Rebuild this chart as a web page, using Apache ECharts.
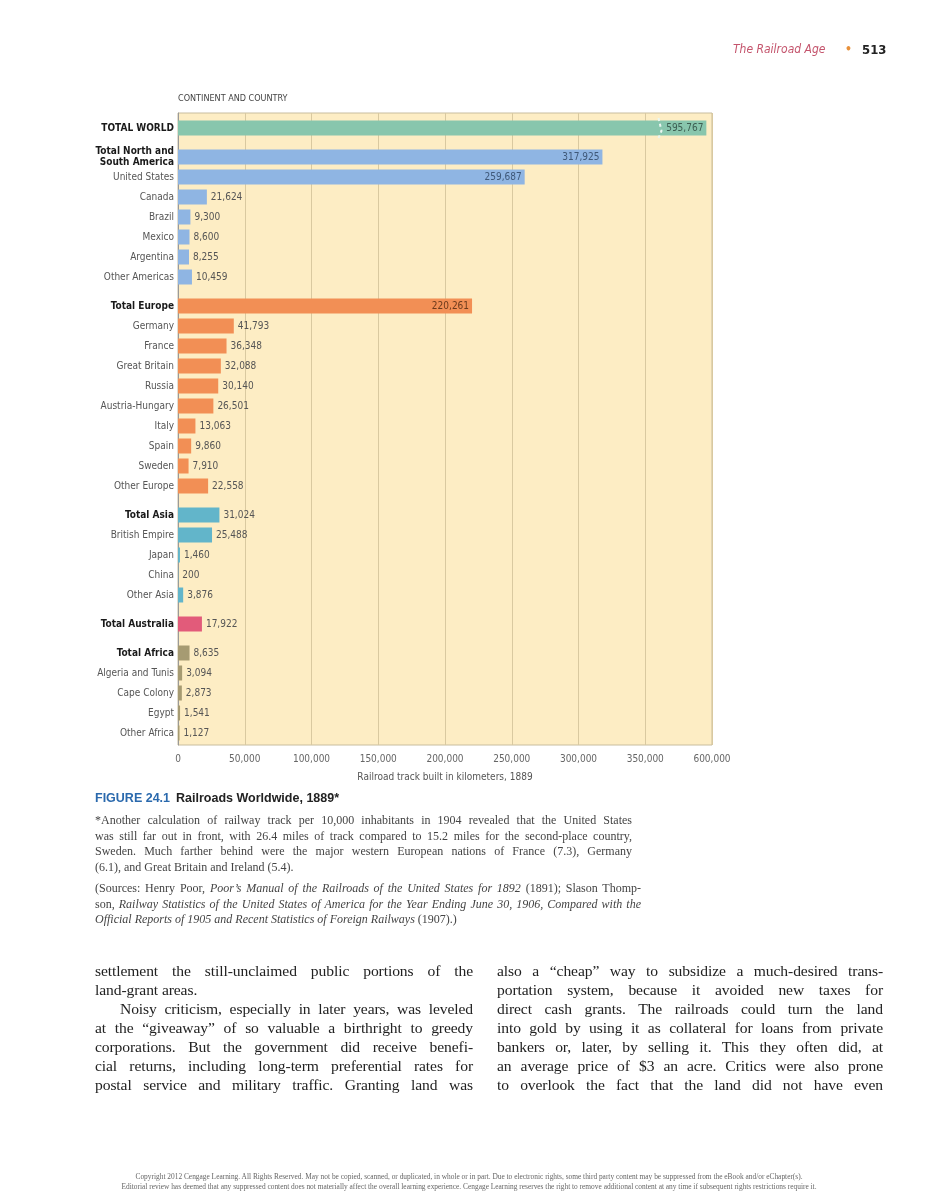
<!DOCTYPE html>
<html>
<head>
<meta charset="utf-8">
<script src="https://cdn.jsdelivr.net/npm/echarts@6/dist/echarts.min.js"></script>
<style>
  html, body { margin: 0; padding: 0; background: #fff; }
  #page { position: relative; width: 938px; height: 1200px; overflow: hidden; }
  #chart { position: absolute; left: 0; top: 0; width: 938px; height: 1200px; }
  .t { position: absolute; white-space: nowrap; }
  .hdr { top: 42px; font-family: 'Liberation Sans Narrow', 'DejaVu Sans Condensed', 'Liberation Sans', sans-serif; font-size: 12px; }
  .cap { left: 95px; top: 791px; font-family: 'Liberation Sans Narrow', 'Liberation Sans', sans-serif; font-weight: bold; font-size: 12.5px; color: #222; }
  .cap b { color: #2a69ad; margin-right: 6px; }
  .note { left: 95px; font-family: 'Liberation Serif', 'DejaVu Serif', serif; font-size: 12px; color: #444; line-height: 15.5px; }
  .note div, .body div { text-align: justify; text-align-last: justify; white-space: nowrap; }
  .note div.last, .body div.last { text-align-last: left; }
  .body { font-family: 'Liberation Serif', 'DejaVu Serif', serif; font-size: 15.6px; color: #222; line-height: 19px; letter-spacing: -0.1px; }
  .copy { left: 0; width: 938px; text-align: center; font-family: 'Liberation Serif', serif; font-size: 7.4px; color: #666; line-height: 10px; }
</style>
</head>
<body>
<div id="page">
  <div id="chart"></div>

  <div class="t hdr" style="left:733px; color:#c4546c; font-style:italic;">The Railroad Age</div>
  <div class="t hdr" style="left:845px; color:#e8903a; font-weight:bold;">•</div>
  <div class="t hdr" style="left:862px; color:#222; font-weight:bold; font-size:13px;">513</div>

  <div class="t cap"><b>FIGURE 24.1</b>Railroads Worldwide, 1889*</div>

  <div class="t note" style="top:813px; width:537px;">
    <div>*Another calculation of railway track per 10,000 inhabitants in 1904 revealed that the United States</div>
    <div>was still far out in front, with 26.4 miles of track compared to 15.2 miles for the second-place country,</div>
    <div>Sweden. Much farther behind were the major western European nations of France (7.3), Germany</div>
    <div class="last">(6.1), and Great Britain and Ireland (5.4).</div>
  </div>
  <div class="t note" style="top:881px; width:546px;">
    <div>(Sources: Henry Poor, <i>Poor’s Manual of the Railroads of the United States for 1892</i> (1891); Slason Thomp-</div>
    <div>son, <i>Railway Statistics of the United States of America for the Year Ending June 30, 1906, Compared with the</i></div>
    <div class="last"><i>Official Reports of 1905 and Recent Statistics of Foreign Railways</i> (1907).)</div>
  </div>

  <div class="t body" style="left:95px; top:961px; width:378px;">
    <div>settlement the still-unclaimed public portions of the</div>
    <div class="last">land-grant areas.</div>
    <div style="padding-left:25px;">Noisy criticism, especially in later years, was leveled</div>
    <div>at the “giveaway” of so valuable a birthright to greedy</div>
    <div>corporations. But the government did receive benefi-</div>
    <div>cial returns, including long-term preferential rates for</div>
    <div>postal service and military traffic. Granting land was</div>
  </div>
  <div class="t body" style="left:497px; top:961px; width:386px;">
    <div>also a “cheap” way to subsidize a much-desired trans-</div>
    <div>portation system, because it avoided new taxes for</div>
    <div>direct cash grants. The railroads could turn the land</div>
    <div>into gold by using it as collateral for loans from private</div>
    <div>bankers or, later, by selling it. This they often did, at</div>
    <div>an average price of $3 an acre. Critics were also prone</div>
    <div>to overlook the fact that the land did not have even</div>
  </div>

  <div class="t copy" style="top:1172px;">Copyright 2012 Cengage Learning. All Rights Reserved. May not be copied, scanned, or duplicated, in whole or in part. Due to electronic rights, some third party content may be suppressed from the eBook and/or eChapter(s).<br>Editorial review has deemed that any suppressed content does not materially affect the overall learning experience. Cengage Learning reserves the right to remove additional content at any time if subsequent rights restrictions require it.</div>
</div>

<script>
// ---- data ----
const worldCats = ['TOTAL WORLD'];
const worldVals = [595767];
const americasCats = ['Total North and\nSouth America', 'United States', 'Canada', 'Brazil', 'Mexico', 'Argentina', 'Other Americas'];
const americasVals = [317925, 259687, 21624, 9300, 8600, 8255, 10459];
const europeCats = ['Total Europe', 'Germany', 'France', 'Great Britain', 'Russia', 'Austria-Hungary', 'Italy', 'Spain', 'Sweden', 'Other Europe'];
const europeVals = [220261, 41793, 36348, 32088, 30140, 26501, 13063, 9860, 7910, 22558];
const asiaCats = ['Total Asia', 'British Empire', 'Japan', 'China', 'Other Asia'];
const asiaVals = [31024, 25488, 1460, 200, 3876];
const australiaCats = ['Total Australia'];
const australiaVals = [17922];
const africaCats = ['Total Africa', 'Algeria and Tunis', 'Cape Colony', 'Egypt', 'Other Africa'];
const africaVals = [8635, 3094, 2873, 1541, 1127];
const xTickValues = [0, 50000, 100000, 150000, 200000, 250000, 300000, 350000, 600000];
const axisBreak = { start: 360000, end: 560000 };

// ---- styling / layout ----
const groups = [
  { cats: worldCats, vals: worldVals, color: '#88c6ad', inColor: '#3d5e52' },
  { cats: americasCats, vals: americasVals, color: '#8fb5e3', inColor: '#3f5878' },
  { cats: europeCats, vals: europeVals, color: '#f28f55', inColor: '#6b3a1c' },
  { cats: asiaCats, vals: asiaVals, color: '#62b5ca', inColor: '#2e5560' },
  { cats: australiaCats, vals: australiaVals, color: '#e25b7a', inColor: '#5a2030' },
  { cats: africaCats, vals: africaVals, color: '#a69b72', inColor: '#4a4430' }
];
const FONT = "'Liberation Sans Narrow', 'DejaVu Sans Condensed', 'Liberation Sans', sans-serif";
const PL = 178, PW = 534, PTOP = 113, PH = 632;
const ROW = 20, GAP = 9, FIRST = 118;

const fmt = v => Number(v).toLocaleString('en-US');
const breaks = [{ start: axisBreak.start, end: axisBreak.end, gap: 0 }];

const grids = [{ left: PL, top: PTOP, width: PW, height: PH, show: true, backgroundColor: '#fdedc4', borderColor: '#c8bd9e', borderWidth: 1, outerBoundsMode: 'none', containLabel: false }];
const xAxes = [{
  gridIndex: 0, type: 'value', min: 0, max: 600000, interval: 50000,
  breaks: breaks,
  breakArea: { show: false },
  breakLabelLayout: { moveOverlap: false },
  axisLine: { show: false },
  axisTick: { show: false, customValues: xTickValues },
  splitLine: { show: true, lineStyle: { color: '#d9c9a0', width: 1 } },
  axisLabel: {
    fontFamily: FONT, fontSize: 10, color: '#666', margin: 9, hideOverlap: false,
    customValues: xTickValues,
    formatter: v => fmt(v)
  },
  name: 'Railroad track built in kilometers, 1889', nameLocation: 'middle', nameGap: 27,
  nameTextStyle: { fontFamily: FONT, fontSize: 10, color: '#555' }
}];
const yAxes = [{
  gridIndex: 0, type: 'category', data: [''],
  axisLine: { show: true, lineStyle: { color: '#9a9a9a' } }, axisTick: { show: false }, axisLabel: { show: false },
  name: 'CONTINENT AND COUNTRY', nameLocation: 'end', nameGap: 10,
  nameTextStyle: { fontFamily: FONT, fontSize: 9, color: '#444', align: 'left' }
}];
const series = [];
let gTop = FIRST;
groups.forEach((g, i) => {
  const h = g.cats.length * ROW;
  grids.push({ left: PL, top: gTop, width: PW, height: h, outerBoundsMode: 'none', containLabel: false });
  gTop += h + GAP;
  xAxes.push({
    gridIndex: i + 1, type: 'value', min: 0, max: 600000, interval: 50000,
    breaks: breaks,
    breakArea: i === 0 ? { show: true, zigzagAmplitude: 3, itemStyle: { color: '#eaf6f0', borderColor: '#eaf6f0', borderWidth: 2, opacity: 1 } } : { show: false },
    axisLine: { show: false }, axisTick: { show: false }, axisLabel: { show: false }, splitLine: { show: false }
  });
  yAxes.push({
    gridIndex: i + 1, type: 'category', inverse: true, data: g.cats,
    axisLine: { show: false }, axisTick: { show: false },
    axisLabel: {
      fontFamily: FONT, fontSize: 10, color: '#555', margin: 4, lineHeight: 11,
      formatter: (v, idx) => idx === 0 ? v.split('\n').map(s => '{b|' + s + '}').join('\n') : v,
      rich: { b: { fontFamily: FONT, fontSize: 10, fontWeight: 'bold', color: '#1a1a1a', lineHeight: 11 } }
    }
  });
  series.push({
    type: 'bar', xAxisIndex: i + 1, yAxisIndex: i + 1, barWidth: 15,
    itemStyle: { color: g.color },
    label: { show: true, position: 'right', distance: 4, fontFamily: FONT, fontSize: 10, color: '#555', formatter: p => fmt(p.value) },
    data: g.vals.map(v => v > 200000 ? { value: v, label: { position: 'insideRight', distance: 3, color: g.inColor } } : v)
  });
});

const chart = echarts.init(document.getElementById('chart'), null, { renderer: 'canvas' });
chart.setOption({ animation: false, grid: grids, xAxis: xAxes, yAxis: yAxes, series: series });
</script>
</body>
</html>
